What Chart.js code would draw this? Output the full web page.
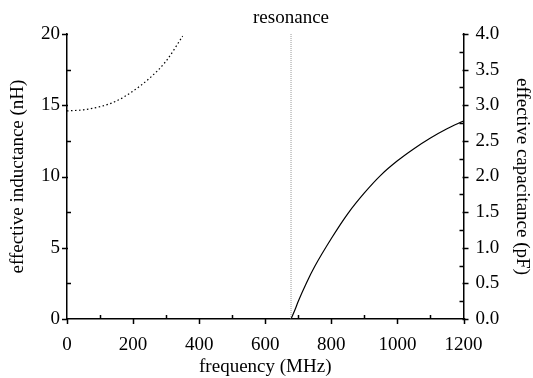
<!DOCTYPE html>
<html lang="en">
<head>
<meta charset="UTF-8" />
<title>Effective inductance and capacitance</title>
<script src="https://cdn.jsdelivr.net/npm/chart.js"></script>
<style>
  body { margin: 0; background: #fff; }
  .wrap { width: 533px; height: 378px; position: relative; }
</style>
</head>
<body>
<div class="wrap"><canvas id="chart"></canvas></div>
<script>
// values
const indFreq = [0, 50, 100, 150, 200, 250, 300, 350];
const inductance = [14.6, 14.68, 14.9, 15.3, 16.0, 16.9, 18.1, 19.85];
const capFreq = [678, 690, 700, 725, 750, 800, 850, 900, 950, 1000, 1050, 1100, 1150, 1200];
const capacitance = [0, 0.13, 0.25, 0.51, 0.74, 1.13, 1.48, 1.77, 2.02, 2.22, 2.39, 2.54, 2.67, 2.78];
const resonanceFreq = 678;
const xTicks = [0, 200, 400, 600, 800, 1000, 1200];
const leftTicks = [0, 5, 10, 15, 20];
const rightTicks = [0, 0.5, 1.0, 1.5, 2.0, 2.5, 3.0, 3.5, 4.0];

const FONT = "'Liberation Serif', 'DejaVu Serif', serif";
const fontSize = 19;

const pts = (xs, ys) => xs.map((x, i) => ({ x: x, y: ys[i] }));

// major ticks point outward, minor ticks point inward
const tickMarks = {
  id: "tickMarks",
  afterDraw(chart) {
    const ctx = chart.ctx;
    const a = chart.chartArea;
    const sx = chart.scales.x, sy = chart.scales.y, sy2 = chart.scales.y2;
    ctx.save();
    ctx.strokeStyle = "#000";
    ctx.lineWidth = 1.5;
    ctx.beginPath();
    for (let v = 0; v <= 1200; v += 100) {
      const p = Math.round(sx.getPixelForValue(v)) + 0.5;
      if (v % 200 === 0) { ctx.moveTo(p, a.bottom - 1); ctx.lineTo(p, a.bottom + 5); }
      else { ctx.moveTo(p, a.bottom); ctx.lineTo(p, a.bottom - 4); }
    }
    for (let v = 0; v <= 20; v += 2.5) {
      const p = Math.round(sy.getPixelForValue(v)) + 0.5;
      if (v % 5 === 0) { ctx.moveTo(a.left + 1, p); ctx.lineTo(a.left - 5, p); }
      else { ctx.moveTo(a.left, p); ctx.lineTo(a.left + 4, p); }
    }
    for (let i = 0; i <= 16; i++) {
      const v = i * 0.25;
      const p = Math.round(sy2.getPixelForValue(v)) + 0.5;
      if (i % 2 === 0) { ctx.moveTo(a.right - 1, p); ctx.lineTo(a.right + 5, p); }
      else { ctx.moveTo(a.right, p); ctx.lineTo(a.right - 4, p); }
    }
    ctx.stroke();

    ctx.fillStyle = "#000";
    ctx.font = fontSize + "px " + FONT;
    ctx.textAlign = "center";
    ctx.textBaseline = "middle";
    ctx.fillText("resonance", sx.getPixelForValue(resonanceFreq), 18);
    ctx.restore();
  }
};

const fixSize = (size) => (scale) => {
  if (scale.isHorizontal()) scale.height = size;
  else scale.width = size;
};

new Chart(document.getElementById("chart"), {
  type: "line",
  data: {
    datasets: [
      {
        label: "effective inductance",
        data: pts(indFreq, inductance),
        yAxisID: "y",
        borderColor: "#000",
        borderWidth: 1.2,
        borderDash: [1.5, 2.5],
        pointRadius: 0,
        cubicInterpolationMode: "monotone",
        fill: false
      },
      {
        label: "effective capacitance",
        data: pts(capFreq, capacitance),
        yAxisID: "y2",
        borderColor: "#000",
        borderWidth: 1.2,
        pointRadius: 0,
        cubicInterpolationMode: "monotone",
        fill: false
      },
      {
        label: "resonance",
        data: [{ x: resonanceFreq, y: 0 }, { x: resonanceFreq, y: 20 }],
        yAxisID: "y",
        borderColor: "#999",
        borderWidth: 1,
        borderDash: [1, 1],
        pointRadius: 0,
        fill: false
      }
    ]
  },
  options: {
    responsive: true,
    maintainAspectRatio: false,
    animation: false,
    layout: { padding: { top: 34, left: 0, right: 0, bottom: 0 } },
    plugins: { legend: { display: false }, tooltip: { enabled: false } },
    scales: {
      x: {
        type: "linear",
        min: 0,
        max: 1200,
        afterFit: fixSize(59),
        afterBuildTicks: (s) => { s.ticks = xTicks.map((v) => ({ value: v })); },
        grid: { display: false, tickLength: 5 },
        border: { display: true, color: "#000", width: 1.5 },
        ticks: {
          color: "#000",
          padding: 10,
          font: { family: FONT, size: fontSize },
          callback: (v) => String(v)
        },
        title: {
          display: true,
          text: "frequency (MHz)",
          color: "#000",
          padding: { top: 0, bottom: 0 },
          font: { family: FONT, size: fontSize }
        }
      },
      y: {
        type: "linear",
        position: "left",
        min: 0,
        max: 20,
        afterFit: fixSize(67),
        afterBuildTicks: (s) => { s.ticks = leftTicks.map((v) => ({ value: v })); },
        grid: { display: false, tickLength: 5 },
        border: { display: true, color: "#000", width: 1.5 },
        ticks: { color: "#000", padding: 2, font: { family: FONT, size: fontSize } },
        title: {
          display: true,
          text: "effective inductance (nH)",
          color: "#000",
          padding: { top: 7, bottom: 0 },
          font: { family: FONT, size: fontSize }
        }
      },
      y2: {
        type: "linear",
        position: "right",
        min: 0,
        max: 4,
        afterFit: fixSize(69.5),
        afterBuildTicks: (s) => { s.ticks = rightTicks.map((v) => ({ value: v })); },
        grid: { display: false, tickLength: 5 },
        border: { display: true, color: "#000", width: 1.5 },
        ticks: {
          color: "#000",
          padding: 7,
          font: { family: FONT, size: fontSize },
          callback: (v) => Number(v).toFixed(1)
        },
        title: {
          display: true,
          text: "effective capacitance (pF)",
          color: "#000",
          padding: { top: 0, bottom: 0 },
          font: { family: FONT, size: fontSize }
        }
      }
    }
  },
  plugins: [tickMarks]
});
</script>
</body>
</html>
